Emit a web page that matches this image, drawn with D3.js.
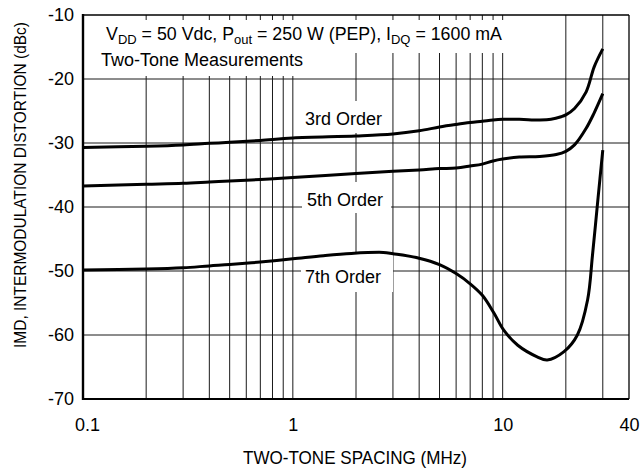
<!DOCTYPE html>
<html>
<head>
<meta charset="utf-8">
<script src="https://cdn.jsdelivr.net/npm/d3@7"></script>
<style>
  body { margin: 0; background: #fff; }
  text { font-family: "Liberation Sans", Arial, Helvetica, sans-serif; fill: #000; }
</style>
</head>
<body>
<div id="chart"></div>
<script>
// values (MHz, dBc)
var freq3 = [0.1, 0.2, 0.3, 0.4, 0.5, 0.7, 1, 2, 3, 4, 5, 6, 7, 8, 9, 10, 12, 15, 17, 19, 20, 22, 25, 27.3, 30];
var imd3 = [-30.7, -30.5, -30.3, -30.05, -29.9, -29.6, -29.2, -28.9, -28.6, -28.1, -27.5, -27.1, -26.8, -26.6, -26.4, -26.3, -26.3, -26.4, -26.3, -25.9, -25.6, -24.6, -22.0, -18.1, -15.3];

var freq5 = [0.1, 0.2, 0.3, 0.4, 0.5, 0.7, 1, 2, 3, 4, 5, 6, 7, 8, 9, 10, 12, 15, 18, 20, 22, 25, 27.2, 30];
var imd5 = [-36.7, -36.45, -36.3, -36.1, -35.95, -35.7, -35.4, -34.75, -34.4, -34.2, -34.0, -33.9, -33.6, -33.3, -32.8, -32.5, -32.2, -32.1, -31.8, -31.3, -30.3, -27.7, -25.4, -22.3];

var freq7 = [0.1, 0.2, 0.3, 0.4, 0.5, 0.7, 1, 1.4, 1.9, 2.7, 3, 4, 5, 6, 7, 8, 9.1, 10.1, 11.8, 14.6, 16.3, 19.6, 22.7, 25.4, 26.8, 28.5, 30];
var imd7 = [-49.85, -49.7, -49.5, -49.2, -49.0, -48.6, -48.1, -47.6, -47.25, -47.1, -47.3, -48.0, -49.0, -50.4, -52.0, -53.8, -56.6, -59.2, -61.6, -63.4, -63.9, -62.6, -60.0, -54.5, -47.5, -38.5, -31.1];

var xTicks = [0.1, 1, 10, 40];
var xGrid = [0.2, 0.3, 0.4, 0.5, 0.6, 0.7, 0.8, 0.9, 1, 2, 3, 4, 5, 6, 7, 8, 9, 10, 20, 30];
var yTicks = [-10, -20, -30, -40, -50, -60, -70];
var yGrid = [-20, -30, -40, -50, -60];

var width = 640;
var height = 470;
var plot = { left: 83, right: 629, top: 15, bottom: 399 };

var svg = d3
  .select("#chart")
  .append("svg")
  .attr("width", width)
  .attr("height", height);

var xScale = d3.scaleLog().domain([0.1, 40]).range([plot.left, plot.right]);
var yScale = d3.scaleLinear().domain([-70, -10]).range([plot.bottom, plot.top]);

// grid
svg
  .selectAll(".vgrid")
  .data(xGrid)
  .enter()
  .append("line")
  .attr("class", "vgrid")
  .attr("x1", function(d) { return xScale(d); })
  .attr("x2", function(d) { return xScale(d); })
  .attr("y1", plot.top)
  .attr("y2", plot.bottom)
  .attr("stroke", "#1a1a1a")
  .attr("stroke-width", 1);

svg
  .selectAll(".hgrid")
  .data(yGrid)
  .enter()
  .append("line")
  .attr("class", "hgrid")
  .attr("x1", plot.left)
  .attr("x2", plot.right)
  .attr("y1", function(d) { return yScale(d); })
  .attr("y2", function(d) { return yScale(d); })
  .attr("stroke", "#1a1a1a")
  .attr("stroke-width", 1);

// white boxes behind the texts, then the texts
function boxed(x, y, str, pad) {
  var g = svg.append("g");
  var t = g
    .append("text")
    .attr("x", x)
    .attr("y", y)
    .style("font-size", "18px")
    .text(str);
  var b = t.node().getBBox();
  g.insert("rect", "text")
    .attr("x", b.x - pad[3])
    .attr("y", b.y - pad[0])
    .attr("width", b.width + pad[1] + pad[3])
    .attr("height", b.height + pad[0] + pad[2])
    .attr("fill", "#fff");
  return t;
}

// header
svg.append("rect").attr("x", 95).attr("y", 20).attr("width", 411).attr("height", 33).attr("fill", "#fff");
svg.append("rect").attr("x", 95).attr("y", 53).attr("width", 216).attr("height", 23).attr("fill", "#fff");

var head = svg
  .append("text")
  .attr("x", 106)
  .attr("y", 40)
  .style("font-size", "17.8px");
head.append("tspan").text("V");
head.append("tspan").attr("dy", 4).style("font-size", "13px").text("DD");
head.append("tspan").attr("dy", -4).text(" = 50 Vdc, P");
head.append("tspan").attr("dy", 4).style("font-size", "13px").text("out");
head.append("tspan").attr("dy", -4).text(" = 250 W (PEP), I");
head.append("tspan").attr("dy", 4).style("font-size", "13px").text("DQ");
head.append("tspan").attr("dy", -4).text(" = 1600 mA");

svg
  .append("text")
  .attr("x", 101)
  .attr("y", 66)
  .style("font-size", "18px")
  .text("Two-Tone Measurements");

boxed(305, 125, "3rd Order", [8, 7, 4, 5]);
boxed(307, 206, "5th Order", [8, 8, 3, 5]);
boxed(305, 283, "7th Order", [14, 12, 5, 4]);

// curves
var line = d3
  .line()
  .x(function(d) { return xScale(d[0]); })
  .y(function(d) { return yScale(d[1]); })
  .curve(d3.curveCatmullRom.alpha(0.5));

var series = [d3.zip(freq3, imd3), d3.zip(freq5, imd5), d3.zip(freq7, imd7)];

svg
  .selectAll(".curve")
  .data(series)
  .enter()
  .append("path")
  .attr("class", "curve")
  .attr("d", line)
  .attr("fill", "none")
  .attr("stroke", "#000")
  .attr("stroke-width", 3)
  .attr("stroke-linejoin", "round");

// frame
svg.append("line").attr("x1", plot.left).attr("x2", plot.right).attr("y1", plot.top).attr("y2", plot.top).attr("stroke", "#000").attr("stroke-width", 1.5);
svg.append("line").attr("x1", plot.right).attr("x2", plot.right).attr("y1", plot.top).attr("y2", plot.bottom).attr("stroke", "#000").attr("stroke-width", 1.3);
svg.append("line").attr("x1", plot.left).attr("x2", plot.left).attr("y1", plot.top - 1).attr("y2", plot.bottom + 1).attr("stroke", "#000").attr("stroke-width", 2.4);
svg.append("line").attr("x1", plot.left).attr("x2", plot.right).attr("y1", plot.bottom).attr("y2", plot.bottom).attr("stroke", "#000").attr("stroke-width", 2.2);

// axes
var yAxis = d3
  .axisLeft(yScale)
  .tickValues(yTicks)
  .tickSize(0)
  .tickPadding(9)
  .tickFormat(function(d) { return "-" + Math.abs(d); });
var gy = svg.append("g").attr("transform", "translate(" + plot.left + ",0)").call(yAxis);
gy.select(".domain").remove();
gy.selectAll("text").style("font-size", "18px").style("font-family", null);

var xAxis = d3
  .axisBottom(xScale)
  .tickValues(xTicks)
  .tickSize(0)
  .tickPadding(19)
  .tickFormat(function(d) { return d; });
var gx = svg.append("g").attr("transform", "translate(0," + plot.bottom + ")").call(xAxis);
gx.select(".domain").remove();
gx.selectAll("text").style("font-size", "18px").style("font-family", null);
gx.selectAll("text").filter(function(d) { return d === 0.1; }).attr("dx", 4);

svg
  .append("text")
  .attr("x", 355)
  .attr("y", 464)
  .attr("text-anchor", "middle")
  .attr("textLength", 224)
  .attr("lengthAdjust", "spacingAndGlyphs")
  .style("font-size", "17.5px")
  .text("TWO-TONE SPACING (MHz)");

svg
  .append("text")
  .attr("transform", "translate(26,185) rotate(-90)")
  .attr("text-anchor", "middle")
  .attr("textLength", 326)
  .attr("lengthAdjust", "spacingAndGlyphs")
  .style("font-size", "16px")
  .text("IMD, INTERMODULATION DISTORTION (dBc)");
</script>
</body>
</html>
